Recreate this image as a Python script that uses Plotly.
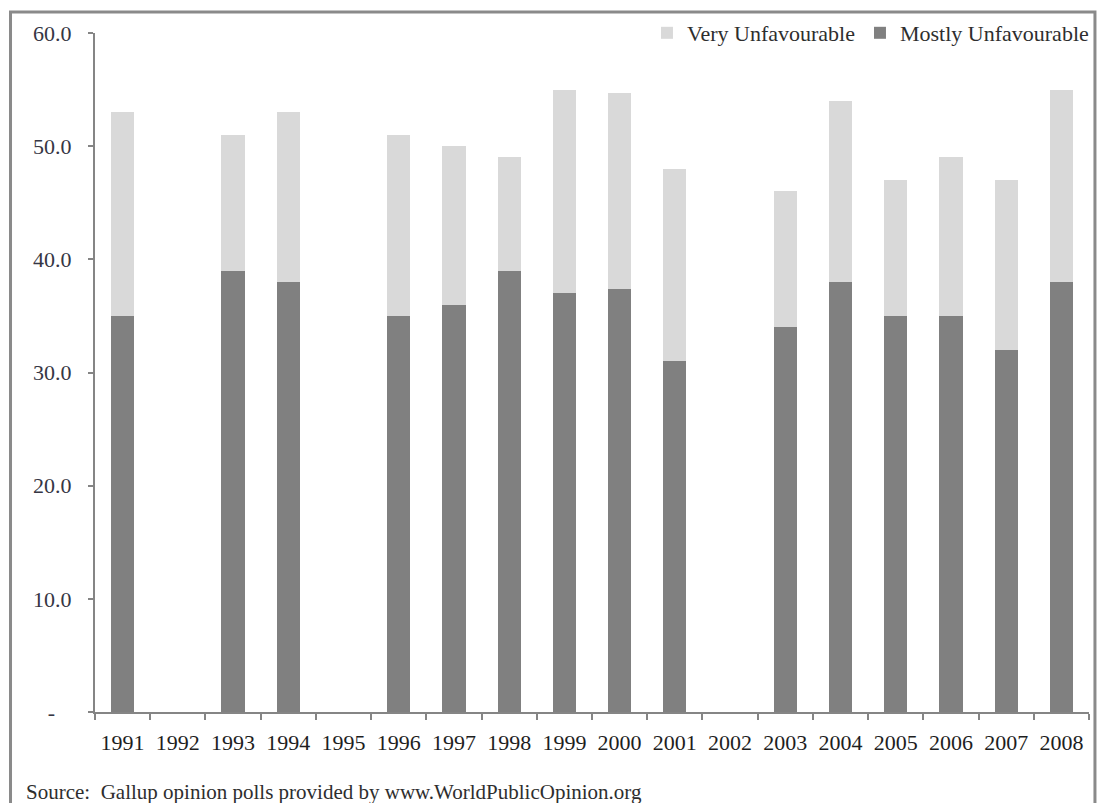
import plotly.graph_objects as go

# Survey years (gaps are years with no poll)
years = ["1991", "1992", "1993", "1994", "1995", "1996", "1997", "1998", "1999",
         "2000", "2001", "2002", "2003", "2004", "2005", "2006", "2007", "2008"]

# Percent "Mostly Unfavourable" (bottom segment)
mostly_unfav = [35, None, 39, 38, None, 35, 36, 39, 37,
                37.4, 31, None, 34, 38, 35, 35, 32, 38]

# Percent "Very Unfavourable" (stacked on top)
very_unfav = [18, None, 12, 15, None, 16, 14, 10, 18,
              17.3, 17, None, 12, 16, 12, 14, 15, 17]

y_tickvals = [0, 10, 20, 30, 40, 50, 60]
y_ticktext = ["-\u00a0\u00a0\u00a0", "10.0", "20.0", "30.0", "40.0", "50.0", "60.0"]

FONT = "Liberation Serif, Times New Roman, serif"
AXIS_GREY = "#858585"

fig = go.Figure()
fig.add_trace(go.Bar(x=years, y=mostly_unfav, name="Mostly Unfavourable",
                     marker=dict(color="#808080", line=dict(width=0))))
fig.add_trace(go.Bar(x=years, y=very_unfav, name="Very Unfavourable",
                     marker=dict(color="#d9d9d9", line=dict(width=0))))

fig.update_layout(
    width=1106, height=803,
    barmode="stack", bargap=0.58,
    paper_bgcolor="white", plot_bgcolor="white",
    margin=dict(l=95, r=12, t=32, b=91),
    font=dict(family=FONT, size=22, color="#2e2e2e"),
    showlegend=True,
    legend=dict(orientation="h", x=1.005, xanchor="right", y=1.0, yanchor="middle",
                traceorder="reversed", bgcolor="rgba(0,0,0,0)",
                font=dict(family=FONT, size=22, color="#2e2e2e"),
                itemwidth=30),
    xaxis=dict(type="category", showgrid=False, showline=True, linecolor=AXIS_GREY,
               linewidth=2, ticks="outside", tickson="boundaries", ticklen=6,
               tickcolor=AXIS_GREY, tickwidth=2, ticklabelstandoff=10,
               tickfont=dict(family=FONT, size=22, color="#1e1e1e")),
    yaxis=dict(range=[0, 60], showgrid=False, zeroline=False, showline=True,
               linecolor=AXIS_GREY, linewidth=2, ticks="outside", ticklen=5,
               tickcolor=AXIS_GREY, tickwidth=2, tickvals=y_tickvals,
               ticktext=y_ticktext, ticklabelstandoff=12,
               tickfont=dict(family=FONT, size=22, color="#363644")),
    shapes=[dict(type="rect", xref="paper", yref="paper",
                 x0=-0.085, x1=1.006, y0=-0.2, y1=1.031,
                 line=dict(color="#8a8a8a", width=3), layer="below")],
    annotations=[dict(text="Source:  Gallup opinion polls provided by www.WorldPublicOpinion.org",
                      xref="paper", yref="paper", x=-0.071, y=-0.118,
                      xanchor="left", yanchor="middle", showarrow=False,
                      font=dict(family=FONT, size=21, color="#2e2e2e"))],
)

fig.write_html("out.html")
